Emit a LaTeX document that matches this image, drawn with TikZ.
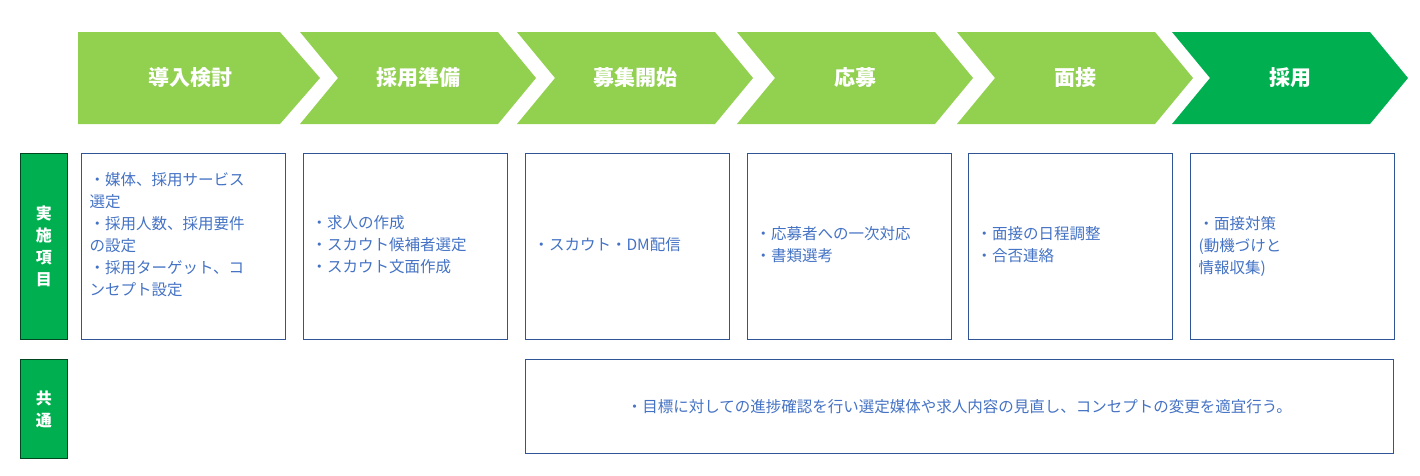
\documentclass[tikz,border=0pt]{standalone}
\usepackage{fontspec}
\setmainfont{Noto Sans CJK JP}
\usetikzlibrary{positioning}
\definecolor{lgreen}{HTML}{92D050}
\definecolor{dgreen}{HTML}{00B050}
\definecolor{frame}{HTML}{2F5597}
\definecolor{ink}{HTML}{4472C4}
\tikzset{
  stage/.style={fill=#1, draw=none},
  stagetext/.style={text=white, font=\fontsize{21}{24}\selectfont\bfseries},
  itembox/.style={draw=frame, line width=0.8pt, minimum width=204pt, minimum height=186pt, anchor=north west},
  itemtext/.style={text=ink, font=\fontsize{15.5}{22}\selectfont, align=left, anchor=west},
  sidebox/.style={fill=dgreen, draw=black!60!dgreen, line width=0.8pt, minimum width=47pt, anchor=north west,
    text=white, font=\fontsize{16}{22}\selectfont\bfseries, align=center}
}
\begin{document}
\begin{tikzpicture}[x=1pt,y=-1pt]
\useasboundingbox (0,0) rectangle (1420,475);
% process chevrons
\fill[stage=lgreen] (78,32) -- (280,32) -- (320,78) -- (280,124) -- (78,124) -- cycle;
\foreach \x/\c in {300/lgreen,517/lgreen,737/lgreen,957/lgreen,1172/dgreen}{
  \fill[stage=\c] (\x,32) -- (\x+198,32) -- (\x+236,78) -- (\x+198,124) -- (\x,124) -- (\x+38,78) -- cycle;
}
\node[stagetext] (s1) at (190,78) {導入検討};
\node[stagetext] (s2) at (418,78) {採用準備};
\node[stagetext] (s3) at (635,78) {募集開始};
\node[stagetext] (s4) at (855,78) {応募};
\node[stagetext] (s5) at (1075,78) {面接};
\node[stagetext] (s6) at (1290,78) {採用};
% side labels
\node[sidebox, minimum height=186pt] (l1) at (20,153) {実\\施\\項\\目};
\node[sidebox, minimum height=99pt] (l2) at (20,359) {共\\通};
% item boxes
\node[itembox] (b1) at (81,153) {};
\node[itembox] (b2) at (303,153) {};
\node[itembox] (b3) at (525,153) {};
\node[itembox] (b4) at (747,153) {};
\node[itembox] (b5) at (968,153) {};
\node[itembox] (b6) at (1190,153) {};
\node[itembox, minimum width=868pt, minimum height=94pt] (b7) at (525,359) {};
\node[itemtext] (t1) at (86,235) {・媒体、採用サービス\\選定\\・採用人数、採用要件\\の設定\\・採用ターゲット、コ\\ンセプト設定};
\node[itemtext] (t2) at (308,245) {・求人の作成\\・スカウト候補者選定\\・スカウト文面作成};
\node[itemtext] (t3) at (530,245) {・スカウト・DM配信};
\node[itemtext] (t4) at (752,245) {・応募者への一次対応\\・書類選考};
\node[itemtext] (t5) at (973,245) {・面接の日程調整\\・合否連絡};
\node[itemtext] (t6) at (1195,246) {・面接対策\\(動機づけと\\情報収集)};
\node[itemtext, anchor=center] (t7) at (b7) {・目標に対しての進捗確認を行い選定媒体や求人内容の見直し、コンセプトの変更を適宜行う。};
\end{tikzpicture}
\end{document}
